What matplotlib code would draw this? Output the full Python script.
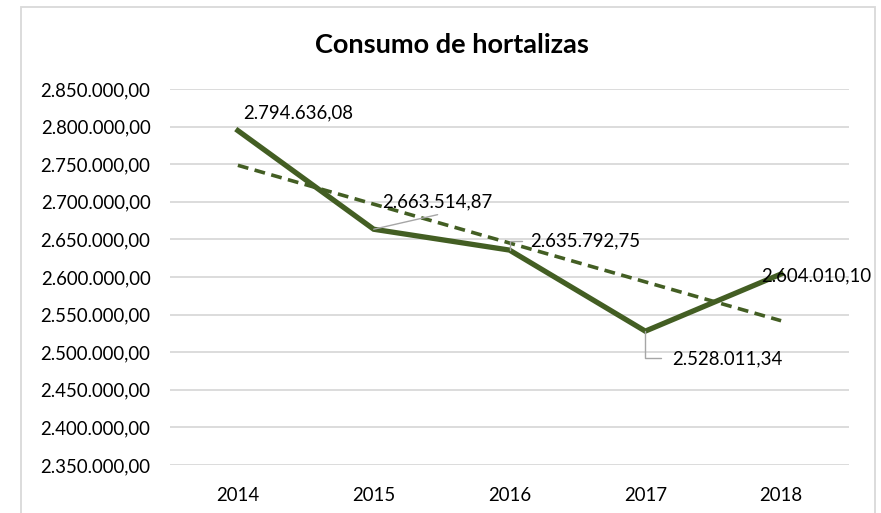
import numpy as np
import matplotlib
matplotlib.use("Agg")
import matplotlib.pyplot as plt
from matplotlib.patches import Rectangle

plt.rcParams['font.family'] = ['Lato', 'DejaVu Sans']

years = ['2014', '2015', '2016', '2017', '2018']
consumo = [2794636.08, 2663514.87, 2635792.75, 2528011.34, 2604010.10]
y_ticks = [2350000, 2400000, 2450000, 2500000, 2550000, 2600000,
           2650000, 2700000, 2750000, 2800000, 2850000]

LINE = '#435E23'
GRID = '#D9D9D9'
TEXT = '#000000'


def fmt_es(v):
    s = f"{v:,.2f}"
    return s.replace(',', 'X').replace('.', ',').replace('X', '.')


fig = plt.figure(figsize=(8.81, 5.13), dpi=100)
W, H = 881, 513

# chart border
fig.patches.append(Rectangle((21 / W, -0.01), (875 - 21) / W, (1 - 7 / H) + 0.01,
                             transform=fig.transFigure, fill=False,
                             edgecolor=GRID, linewidth=1.3))

ax = fig.add_axes([170 / W, 1 - 465 / H, (849 - 170) / W, (465 - 89) / H])
x = np.arange(len(years))
ax.set_xlim(-0.5, len(years) - 0.5)
ax.set_ylim(y_ticks[0], y_ticks[-1])

fs = 13.4
ax.set_yticks(y_ticks)
ax.set_yticklabels([fmt_es(v) for v in y_ticks])
ax.set_xticks(x)
ax.set_xticklabels(years)
ax.tick_params(axis='both', length=0, labelsize=fs, colors=TEXT)
ax.tick_params(axis='y', pad=14)
ax.tick_params(axis='x', pad=16)
for sp in ax.spines.values():
    sp.set_visible(False)
ax.grid(axis='y', color=GRID, linewidth=1.3)
ax.set_axisbelow(True)

# series and linear trend
ax.plot(x, consumo, color=LINE, linewidth=3.8, solid_joinstyle='miter', zorder=3)
coef = np.polyfit(x, consumo, 1)
trend = np.polyval(coef, x)
ax.plot(x, trend, color=LINE, linewidth=2.6, linestyle=(0, (3.0, 1.8)), zorder=3)

# data labels with leader lines (offsets in points)
leader = dict(color='#A6A6A6', linewidth=1.0)

ax.annotate(fmt_es(consumo[0]), (x[0], consumo[0]), xytext=(4, 13),
            textcoords='offset points', ha='left', va='center',
            fontsize=fs, color=TEXT, zorder=5)

ax.annotate(fmt_es(consumo[1]), (x[1], consumo[1]), xytext=(6, 20),
            textcoords='offset points', ha='left', va='center',
            fontsize=fs, color=TEXT, zorder=5)
ax.annotate('', (x[1], consumo[1]), xytext=(46, 10.5), textcoords='offset points',
            arrowprops=dict(arrowstyle='-', shrinkA=0, shrinkB=0, **leader), zorder=4)

ax.annotate(fmt_es(consumo[2]), (x[2], consumo[2]), xytext=(15, 6.5),
            textcoords='offset points', ha='left', va='center',
            fontsize=fs, color=TEXT, zorder=5)
ax.annotate('', (x[2], consumo[2]), xytext=(9, 6.5), textcoords='offset points',
            arrowprops=dict(arrowstyle='-', shrinkA=0, shrinkB=0,
                            connectionstyle='angle,angleA=0,angleB=90,rad=0', **leader),
            zorder=4)

ax.annotate(fmt_es(consumo[3]), (x[3], consumo[3]), xytext=(19, -20),
            textcoords='offset points', ha='left', va='center',
            fontsize=fs, color=TEXT, zorder=5)
ax.annotate('', (x[3], consumo[3]), xytext=(11, -19), textcoords='offset points',
            arrowprops=dict(arrowstyle='-', shrinkA=0, shrinkB=0,
                            connectionstyle='angle,angleA=0,angleB=90,rad=0', **leader),
            zorder=4)

ax.annotate(fmt_es(consumo[4]), (x[4], consumo[4]), xytext=(25, -1.5),
            textcoords='offset points', ha='center', va='center',
            fontsize=fs, color=TEXT, zorder=5)

fig.text(452 / W, 1 - 45 / H, 'Consumo de hortalizas', ha='center', va='center',
         fontsize=19.5, fontweight='bold', color=TEXT)

fig.savefig('out.png', dpi=100, facecolor='white')
